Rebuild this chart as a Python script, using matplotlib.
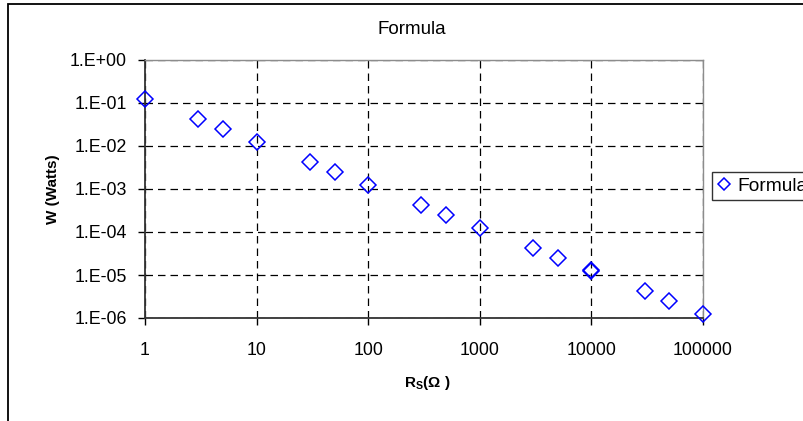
import matplotlib
matplotlib.use("Agg")
import matplotlib.pyplot as plt
from matplotlib.patches import Rectangle
from matplotlib.ticker import FixedLocator, FixedFormatter, NullLocator

plt.rcParams['font.family'] = ['Liberation Sans', 'DejaVu Sans']
plt.rcParams['mathtext.fontset'] = 'custom'
plt.rcParams['mathtext.rm'] = 'Liberation Sans'
plt.rcParams['mathtext.bf'] = 'Liberation Sans:bold'
plt.rcParams['mathtext.it'] = 'Liberation Sans:italic'

# Source resistance (ohms) and dissipated power (watts)
resistance = [1, 3, 5, 10, 30, 50, 100, 300, 500, 1000, 3000, 5000,
              10000, 10000, 30000, 50000, 100000]
power = [1.25e-1, 4.17e-2, 2.5e-2, 1.25e-2, 4.17e-3, 2.5e-3, 1.25e-3,
         4.17e-4, 2.5e-4, 1.25e-4, 4.17e-5, 2.5e-5,
         1.25e-5, 1.28e-5, 4.17e-6, 2.5e-6, 1.25e-6]

x_ticks = [1, 10, 100, 1000, 10000, 100000]
x_tick_labels = ["1", "10", "100", "1000", "10000", "100000"]
y_ticks = [1e-6, 1e-5, 1e-4, 1e-3, 1e-2, 1e-1, 1e0]
y_tick_labels = ["1.E-06", "1.E-05", "1.E-04", "1.E-03", "1.E-02", "1.E-01", "1.E+00"]

W, H = 804, 421
fig = plt.figure(figsize=(W / 100, H / 100), dpi=100)

# outer chart frame
fig.patches.append(Rectangle((8 / W, -0.1), 1.2, 1.1 - 4 / H,
                             transform=fig.transFigure, fill=False,
                             edgecolor='black', linewidth=1.3, zorder=0))

ax = fig.add_axes([145 / W, 1 - 318 / H, 558 / W, 258 / H])
ax.set_xscale('log')
ax.set_yscale('log')
ax.set_xlim(1, 100000)
ax.set_ylim(1e-6, 1)

ax.plot(resistance, power, linestyle='none', marker='D', markersize=8,
        markerfacecolor='none', markeredgecolor='#0000FF', markeredgewidth=1.1,
        label='Formula', clip_on=False, zorder=5)

ax.xaxis.set_major_locator(FixedLocator(x_ticks))
ax.xaxis.set_major_formatter(FixedFormatter(x_tick_labels))
ax.xaxis.set_minor_locator(NullLocator())
ax.yaxis.set_major_locator(FixedLocator(y_ticks))
ax.yaxis.set_major_formatter(FixedFormatter(y_tick_labels))
ax.yaxis.set_minor_locator(NullLocator())

ax.tick_params(axis='x', direction='out', length=5, width=1, pad=12,
               labelsize=12.8, colors='black')
ax.tick_params(axis='y', direction='out', length=5, width=1, pad=8,
               labelsize=12.8, colors='black')

ax.grid(True, which='major', color='black', linestyle=(0, (6, 4)), linewidth=0.9)
ax.set_axisbelow(True)

for side in ('top', 'right'):
    ax.spines[side].set_color('#8c8c8c')
    ax.spines[side].set_linewidth(1.0)
for side in ('left', 'bottom'):
    ax.spines[side].set_color('#333333')
    ax.spines[side].set_linewidth(1.3)

fig.text(412 / W, 1 - 30 / H, "Formula", ha='center', va='center', fontsize=13.5)
fig.text(53 / W, 1 - 189 / H, "W (Watts)", ha='center', va='center',
         rotation=90, fontsize=11, fontweight='bold')
fig.text(427 / W, 1 - 383 / H, r"$\mathbf{R_S(\Omega\ )}$", ha='center', va='center',
         fontsize=11)

leg = fig.legend(loc='center left', bbox_to_anchor=(712 / W, 1 - 186 / H),
                 bbox_transform=fig.transFigure, fontsize=13.8, frameon=True,
                 fancybox=False, edgecolor='black', handlelength=0.7,
                 handletextpad=0.35, borderpad=0.3, markerscale=0.75,
                 borderaxespad=0)
leg.get_frame().set_linewidth(1.0)

fig.savefig("out.png", dpi=100)
